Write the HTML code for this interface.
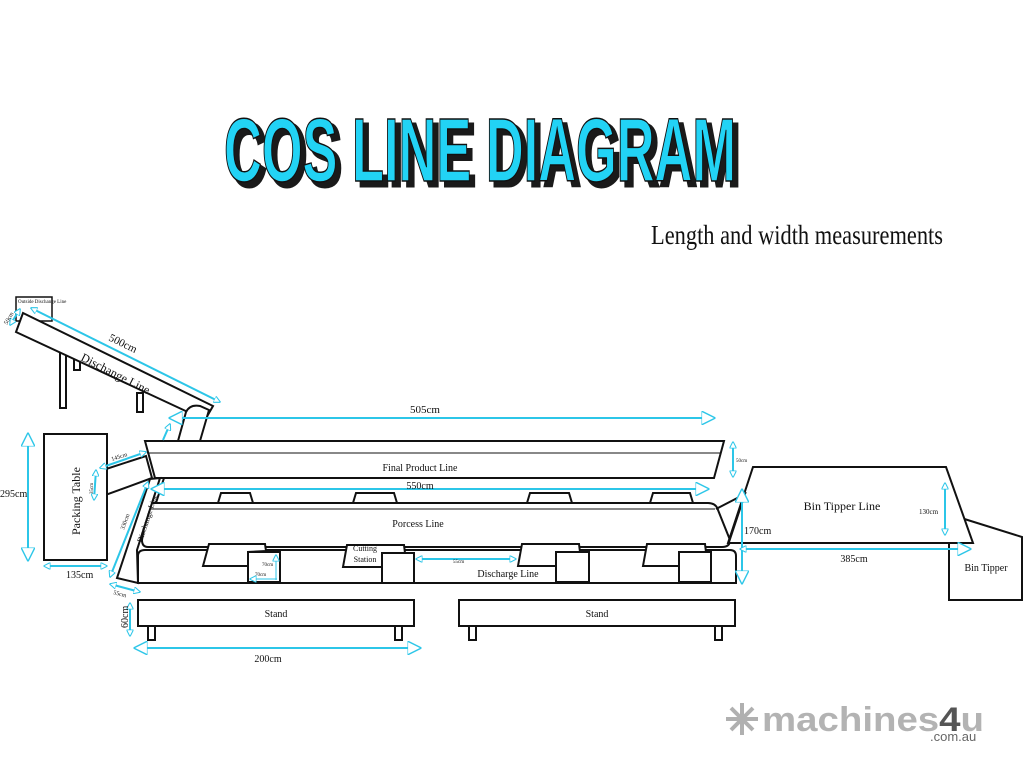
<!DOCTYPE html>
<html><head><meta charset="utf-8"><style>
html,body{margin:0;padding:0;background:#fff;}
svg{display:block}
</style></head><body>
<svg width="1024" height="768" viewBox="0 0 1024 768" xmlns="http://www.w3.org/2000/svg" font-family="Liberation Serif, serif">
<defs>
<marker id="a" viewBox="0 0 10 10" refX="9" refY="5" markerWidth="7" markerHeight="7" orient="auto-start-reverse" markerUnits="userSpaceOnUse"><path d="M0,0 L10,5 L0,10 z" fill="#fff" stroke="#2cc6e8" stroke-width="1.5"/></marker>
<marker id="b" viewBox="0 0 10 10" refX="9" refY="5" markerWidth="14" markerHeight="14" orient="auto-start-reverse" markerUnits="userSpaceOnUse"><path d="M0,0 L10,5 L0,10 z" fill="#fff" stroke="#2cc6e8" stroke-width="1"/></marker>
</defs>
<!-- Title -->
<g font-family="Liberation Sans, sans-serif" font-weight="bold" font-size="90">
<text x="229" y="186" textLength="512" lengthAdjust="spacingAndGlyphs" fill="#1a1a1a" stroke="#1a1a1a" stroke-width="3">COS LINE DIAGRAM</text>
<text x="224" y="181" textLength="512" lengthAdjust="spacingAndGlyphs" fill="#22d3f5" stroke="#111" stroke-width="1.5">COS LINE DIAGRAM</text>
</g>
<text x="651" y="244" font-size="27" textLength="292" lengthAdjust="spacingAndGlyphs" fill="#111">Length and width measurements</text>

<g fill="none" stroke="#111" stroke-width="2">
<rect x="16" y="297" width="36" height="24" fill="#fff" stroke-width="1.5"/>
<rect x="60" y="350" width="6" height="58"/>
<rect x="74" y="355" width="6" height="15"/>
<rect x="137" y="393" width="6" height="19"/>
<polygon points="23,313 213,406 205,420 16,332" fill="#fff"/>
<path d="M178,441 L186,412 Q190,404 200,406 L209,410 L200,441" fill="#fff"/>
<polygon points="145,441 724,441 714,478 155,478" fill="#fff"/>
<line x1="147" y1="453" x2="721" y2="453" stroke-width="1"/>
<line x1="164" y1="478" x2="156" y2="503"/>
<polygon points="221,493 250,493 253,503 218,503" fill="#fff"/>
<polygon points="356,493 394,493 397,503 353,503" fill="#fff"/>
<polygon points="530,493 569,493 572,503 527,503" fill="#fff"/>
<polygon points="653,493 690,493 693,503 650,503" fill="#fff"/>
<path d="M153,503 L708,503 Q716,503 718,510 L730,540 Q730,547 722,547 L148,547 Q142,547 142,540 L147,510 Q148,503 153,503 z" fill="#fff"/>
<line x1="150" y1="509" x2="715" y2="509" stroke-width="1"/>
<path d="M145,550 L730,550 Q736,550 736,556 L736,583 L138,583 L138,556 Q138,550 145,550 z" fill="#fff"/>
<polygon points="209,544 265,544 266,551 248,552 248,566 203,566" fill="#fff"/>
<rect x="248" y="552" width="32" height="30" fill="#fff"/>
<polygon points="347,545 404,545 405,553 382,553 382,567 343,567" fill="#fff"/>
<rect x="382" y="553" width="32" height="30" fill="#fff"/>
<polygon points="522,544 579,544 580,552 556,552 556,566 518,566" fill="#fff"/>
<rect x="556" y="552" width="33" height="30" fill="#fff"/>
<polygon points="647,544 705,544 706,552 679,552 679,566 643,566" fill="#fff"/>
<rect x="679" y="552" width="32" height="30" fill="#fff"/>
<polygon points="150,479 160,478 137,550 138,583 117,578" fill="#fff"/>
<polygon points="100,471 146,456 152,478 100,497" fill="#fff"/>
<rect x="44" y="434" width="63" height="126" fill="#fff"/>
<rect x="138" y="600" width="276" height="26" fill="#fff"/>
<rect x="148" y="626" width="7" height="14"/>
<rect x="395" y="626" width="7" height="14"/>
<rect x="459" y="600" width="276" height="26" fill="#fff"/>
<rect x="469" y="626" width="7" height="14"/>
<rect x="715" y="626" width="7" height="14"/>
<polyline points="958,517 1022,537 1022,600 949,600 949,543" fill="#fff"/>
<polygon points="753,467 946,467 973,543 728,543" fill="#fff"/>
<polyline points="716,509 745,494 729,542"/>
</g>

<g stroke="#2cc6e8" stroke-width="2" fill="none">
<line x1="31" y1="308" x2="220" y2="402" marker-start="url(#a)" marker-end="url(#a)"/>
<line x1="10" y1="325" x2="20" y2="309" marker-start="url(#a)" marker-end="url(#a)"/>
<line x1="170" y1="418" x2="714" y2="418" marker-start="url(#b)" marker-end="url(#b)"/>
<line x1="163" y1="440" x2="170" y2="424" marker-end="url(#a)"/>
<line x1="733" y1="442" x2="733" y2="477" marker-start="url(#a)" marker-end="url(#a)"/>
<line x1="152" y1="489" x2="708" y2="489" marker-start="url(#b)" marker-end="url(#b)"/>
<line x1="28" y1="434" x2="28" y2="560" marker-start="url(#b)" marker-end="url(#b)"/>
<line x1="44" y1="566" x2="107" y2="566" marker-start="url(#a)" marker-end="url(#a)"/>
<line x1="100" y1="468" x2="146" y2="452" marker-start="url(#a)" marker-end="url(#a)"/>
<line x1="96" y1="470" x2="94" y2="500" marker-start="url(#a)" marker-end="url(#a)"/>
<line x1="148" y1="482" x2="110" y2="577" marker-start="url(#a)" marker-end="url(#a)"/>
<line x1="110" y1="584" x2="140" y2="592" marker-start="url(#a)" marker-end="url(#a)"/>
<line x1="130" y1="603" x2="130" y2="636" marker-start="url(#a)" marker-end="url(#a)"/>
<line x1="135" y1="648" x2="420" y2="648" marker-start="url(#b)" marker-end="url(#b)"/>
<line x1="276" y1="555" x2="276" y2="580" stroke-width="1" marker-start="url(#a)"/>
<line x1="250" y1="579" x2="277" y2="579" stroke-width="1" marker-start="url(#a)"/>
<line x1="416" y1="559" x2="516" y2="559" marker-start="url(#a)" marker-end="url(#a)"/>
<line x1="742" y1="490" x2="742" y2="583" marker-start="url(#b)" marker-end="url(#b)"/>
<line x1="740" y1="549" x2="970" y2="549" marker-start="url(#a)" marker-end="url(#b)"/>
<line x1="945" y1="483" x2="945" y2="535" marker-start="url(#a)" marker-end="url(#a)"/>
</g>

<g fill="#111">
<text x="18" y="303" font-size="5">Outside Dischange Line</text>
<text x="108" y="340" font-size="11" transform="rotate(26 108 340)">500cm</text>
<text x="80" y="360" font-size="12" transform="rotate(27 80 360)">Dischange Line</text>
<text x="7" y="325" font-size="6" transform="rotate(-60 7 325)">50cm</text>
<text x="425" y="413" font-size="11" text-anchor="middle">505cm</text>
<text x="420" y="471" font-size="10" text-anchor="middle">Final Product Line</text>
<text x="736" y="462" font-size="5">50cm</text>
<text x="420" y="489" font-size="10" text-anchor="middle">550cm</text>
<text x="418" y="527" font-size="10" text-anchor="middle">Porcess Line</text>
<text x="508" y="577" font-size="10" text-anchor="middle">Discharge Line</text>
<text x="365" y="551" font-size="8" text-anchor="middle">Cutting</text>
<text x="365" y="562" font-size="8" text-anchor="middle">Station</text>
<text x="262" y="566" font-size="5">70cm</text>
<text x="255" y="576" font-size="5">70cm</text>
<text x="453" y="563" font-size="5">55cm</text>
<text x="276" y="617" font-size="10" text-anchor="middle">Stand</text>
<text x="597" y="617" font-size="10" text-anchor="middle">Stand</text>
<text x="268" y="662" font-size="10" text-anchor="middle">200cm</text>
<text x="128" y="628" font-size="10" transform="rotate(-90 128 628)">60cm</text>
<text x="113" y="594" font-size="6" transform="rotate(15 113 594)">55cm</text>
<text x="80" y="535" font-size="12" transform="rotate(-90 80 535)">Packing Table</text>
<text x="0" y="497" font-size="10">295cm</text>
<text x="66" y="578" font-size="10">135cm</text>
<text x="112" y="461" font-size="6" transform="rotate(-18 112 461)">145cm</text>
<text x="93" y="494" font-size="5" transform="rotate(-90 93 494)">35cm</text>
<text x="124" y="530" font-size="6" transform="rotate(-70 124 530)">330cm</text>
<text x="142" y="543" font-size="8" transform="rotate(-72 142 543)">Dischange Line</text>
<text x="842" y="510" font-size="12" text-anchor="middle">Bin Tipper Line</text>
<text x="919" y="514" font-size="7">130cm</text>
<text x="744" y="534" font-size="10">170cm</text>
<text x="854" y="562" font-size="10" text-anchor="middle">385cm</text>
<text x="986" y="571" font-size="10" text-anchor="middle">Bin Tipper</text>
</g>

<g stroke-width="4" stroke="#b0b0b0">
<line x1="742" y1="703" x2="742" y2="735"/><line x1="726" y1="719" x2="758" y2="719"/>
<line x1="731" y1="708" x2="753" y2="730"/><line x1="753" y1="708" x2="731" y2="730"/>
</g>
<text x="762" y="731" font-family="Liberation Sans, sans-serif" font-weight="bold" font-size="34" fill="#b3b3b3" textLength="222" lengthAdjust="spacingAndGlyphs">machines<tspan fill="#555">4</tspan>u</text>
<text x="930" y="741" font-family="Liberation Sans, sans-serif" font-size="13" fill="#666">.com.au</text>
</svg>
</body></html>
